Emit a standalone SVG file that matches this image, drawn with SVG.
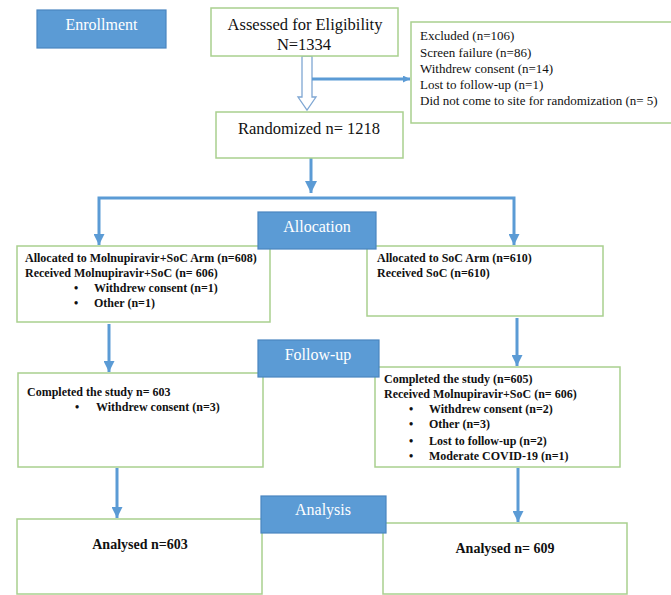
<svg xmlns="http://www.w3.org/2000/svg" width="671" height="595" viewBox="0 0 671 595">
<defs>
<style>
text{font-family:'Liberation Serif','Times New Roman','DejaVu Serif',serif}
.box{fill:#fff;stroke:#A9D08E;stroke-width:1.5}
.lab{fill:#5B9BD5;stroke:#4A85C0;stroke-width:1.2}
.lt{font-size:16px;fill:#fff;text-anchor:middle}
.t16{font-size:16.5px;fill:#111}
.t13{font-size:13px;fill:#111}
.b12{font-size:12px;font-weight:bold;fill:#111}
.b14{font-size:14px;font-weight:bold;fill:#111;text-anchor:middle}
.c{text-anchor:middle}
.conn{fill:none;stroke:#5B9BD5;stroke-width:3}
</style>
<marker id="ah" viewBox="0 0 10 10" refX="10" refY="5" markerWidth="11" markerHeight="11" markerUnits="userSpaceOnUse" orient="auto">
<path d="M0,0 L10,5 L0,10 z" fill="#5B9BD5"/>
</marker>
<marker id="ahs" viewBox="0 0 10 10" refX="10" refY="5" markerWidth="7" markerHeight="7" markerUnits="userSpaceOnUse" orient="auto">
<path d="M0,0 L10,5 L0,10 z" fill="#5B9BD5"/>
</marker>
<marker id="ahb" viewBox="0 0 10 10" refX="10" refY="5" markerWidth="13" markerHeight="12" markerUnits="userSpaceOnUse" orient="auto">
<path d="M0,0 L10,5 L0,10 z" fill="#5B9BD5"/>
</marker>
</defs>

<g id="connectors">
<polygon points="302,56 302,97 298,97 307,110 316,97 312,97 312,56" fill="#fff" stroke="#7FA7D3" stroke-width="1.3"/>
<line class="conn" x1="312" y1="79" x2="410" y2="79" marker-end="url(#ahs)"/>
<line class="conn" x1="311" y1="158" x2="311" y2="193" stroke-width="5" marker-end="url(#ahb)"/>
<path class="conn" d="M311,198 H99 V245" stroke-width="3.5" marker-end="url(#ah)"/>
<path class="conn" d="M311,198 H514 V245" stroke-width="3.5" marker-end="url(#ah)"/>
<line class="conn" x1="109" y1="324" x2="109" y2="372" marker-end="url(#ah)"/>
<line class="conn" x1="517" y1="318" x2="517" y2="366" marker-end="url(#ah)"/>
<line class="conn" x1="117" y1="468" x2="117" y2="518" marker-end="url(#ah)"/>
<line class="conn" x1="518" y1="468" x2="518" y2="522" marker-end="url(#ah)"/>
</g>

<g id="assessed">
<rect class="box" x="211" y="8" width="187" height="48"/>
<text class="t16 c" x="305" y="29.5">Assessed for Eligibility</text>
<text class="t16 c" x="304" y="49.5">N=1334</text>
</g>

<g id="excluded">
<rect class="box" x="411" y="22" width="265" height="101"/>
<text class="t13" x="420" y="39.5">Excluded (n=106)</text>
<text class="t13" x="420" y="56.5">Screen failure (n=86)</text>
<text class="t13" x="420" y="72.5">Withdrew consent (n=14)</text>
<text class="t13" x="420" y="88.5">Lost to follow-up (n=1)</text>
<text class="t13" x="420" y="104.5">Did not come to site for randomization (n= 5)</text>
</g>

<g id="randomized">
<rect class="box" x="216" y="112" width="187" height="46"/>
<text class="t16 c" x="309" y="133.5">Randomized n= 1218</text>
</g>

<g id="alloc-left">
<rect class="box" x="17" y="246" width="253" height="76"/>
<text class="b12" x="25" y="262">Allocated to Molnupiravir+SoC Arm (n=608)</text>
<text class="b12" x="25" y="276.5">Received Molnupiravir+SoC (n= 606)</text>
<text class="b12" x="74" y="292">•</text>
<text class="b12" x="94" y="292">Withdrew consent (n=1)</text>
<text class="b12" x="74" y="307">•</text>
<text class="b12" x="94" y="307">Other (n=1)</text>
</g>

<g id="alloc-right">
<rect class="box" x="367" y="246" width="236" height="70"/>
<text class="b12" x="377" y="262">Allocated to SoC Arm (n=610)</text>
<text class="b12" x="377" y="276.5">Received SoC (n=610)</text>
</g>

<g id="completed-left">
<rect class="box" x="18" y="373" width="245" height="94"/>
<text class="b12" x="27" y="396">Completed the study n= 603</text>
<text class="b12" x="75" y="411">•</text>
<text class="b12" x="96" y="411">Withdrew consent (n=3)</text>
</g>

<g id="completed-right">
<rect class="box" x="375" y="367" width="245" height="100"/>
<text class="b12" x="384" y="382.5">Completed the study (n=605)</text>
<text class="b12" x="384" y="398">Received Molnupiravir+SoC (n= 606)</text>
<text class="b12" x="409" y="413">•</text>
<text class="b12" x="429" y="413">Withdrew consent (n=2)</text>
<text class="b12" x="409" y="428">•</text>
<text class="b12" x="429" y="428">Other (n=3)</text>
<text class="b12" x="409" y="445">•</text>
<text class="b12" x="429" y="445">Lost to follow-up (n=2)</text>
<text class="b12" x="409" y="460">•</text>
<text class="b12" x="429" y="460">Moderate COVID-19 (n=1)</text>
</g>

<g id="analysed-left">
<rect class="box" x="17" y="519" width="245" height="75"/>
<text class="b14" x="140" y="549">Analysed n=603</text>
</g>

<g id="analysed-right">
<rect class="box" x="383" y="523" width="244" height="71"/>
<text class="b14" x="505" y="553">Analysed n= 609</text>
</g>

<g id="enrollment-label">
<rect class="lab" x="37" y="10" width="129" height="38"/>
<text class="lt" x="101.5" y="29.5">Enrollment</text>
</g>

<g id="allocation-label">
<rect class="lab" x="258" y="212" width="118" height="37"/>
<text class="lt" x="317" y="231.5">Allocation</text>
</g>

<g id="followup-label">
<rect class="lab" x="258" y="340" width="121" height="37"/>
<text class="lt" x="318" y="359.5">Follow-up</text>
</g>

<g id="analysis-label">
<rect class="lab" x="261" y="496" width="125" height="37"/>
<text class="lt" x="323" y="514.5">Analysis</text>
</g>
</svg>
